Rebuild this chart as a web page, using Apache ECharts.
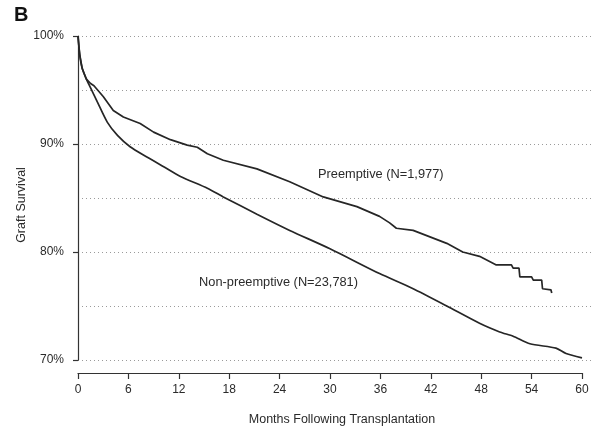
<!DOCTYPE html>
<html>
<head>
<meta charset="utf-8">
<script src="https://cdn.jsdelivr.net/npm/echarts@6/dist/echarts.min.js"></script>
<style>html,body{margin:0;padding:0;background:#fff}#c{width:593px;height:429px}</style>
</head>
<body>
<div id="c"></div>
<script>
var xTicks = [0, 6, 12, 18, 24, 30, 36, 42, 48, 54, 60];
var yTickLabels = ['70%', '80%', '90%', '100%'];

var nonPreMonths = [0, 0.2, 0.5, 1.0, 1.5, 2.3, 3.5, 4.7, 6.2, 8.2, 10.2, 12.2, 15.4, 17.3, 21.3, 25.2, 30.0, 35.9, 39.9, 43.9, 47.8, 50.2, 51.8, 53.8, 56.9, 58.1, 60];
var nonPreValues = [100, 98.3, 97.0, 96.0, 95.2, 93.9, 92.0, 90.8, 89.75, 88.8, 87.9, 87.0, 85.9, 85.1, 83.5, 82.0, 80.3, 78.0, 76.6, 75.0, 73.4, 72.6, 72.2, 71.5, 71.1, 70.6, 70.2];

var preMonths = [0, 0.2, 0.5, 1.0, 1.5, 1.9, 3.0, 4.2, 5.4, 7.4, 9.0, 11.0, 13.0, 14.2, 15.4, 17.3, 21.3, 25.2, 29.2, 33.2, 35.9, 37.1, 37.9, 39.9, 41.9, 43.9, 45.8, 47.8, 49.8, 51.6, 51.8, 52.5, 52.6, 54.0, 54.2, 55.2, 55.3, 56.3, 56.4];
var preValues = [100, 98.3, 97.0, 96.0, 95.6, 95.4, 94.4, 93.1, 92.5, 91.9, 91.1, 90.4, 89.9, 89.7, 89.1, 88.5, 87.7, 86.5, 85.1, 84.2, 83.3, 82.7, 82.2, 82.0, 81.4, 80.8, 80.0, 79.6, 78.8, 78.8, 78.5, 78.5, 77.7, 77.7, 77.4, 77.4, 76.6, 76.5, 76.2];

var preLabel = 'Preemptive (N=1,977)';
var nonPreLabel = 'Non-preemptive (N=23,781)';

function zip(a, b) { return a.map(function (v, i) { return [v, b[i]]; }); }

var FONT = '"Liberation Sans", Arial, Helvetica, sans-serif';
var TXT = '#2a2a2a';
var chart = echarts.init(document.getElementById('c'));
chart.setOption({
  animation: false,
  backgroundColor: '#fff',
  grid: [
    { left: 78, right: 11, top: 36, bottom: 69 },
    { left: 78, right: 0, top: 36, bottom: 69 }
  ],
  xAxis: [
    {
      gridIndex: 0, type: 'value', min: 0, max: 60, interval: 6, offset: 13,
      axisLine: { show: true, lineStyle: { color: '#333', width: 1.2 } },
      axisTick: { show: true, inside: false, length: 6, lineStyle: { color: '#333', width: 1.2 } },
      axisLabel: { margin: 11, color: TXT, fontSize: 12, fontFamily: FONT,
        formatter: function (v) { return xTicks.indexOf(v) >= 0 ? String(v) : ''; } },
      splitLine: { show: false }
    },
    { gridIndex: 1, type: 'value', min: 0, max: 1, show: false }
  ],
  yAxis: [
    {
      gridIndex: 0, type: 'value', min: 70, max: 100, interval: 10,
      axisLine: { show: true, lineStyle: { color: '#333', width: 1.2 } },
      axisTick: { show: true, length: 5, lineStyle: { color: '#333', width: 1.2 } },
      axisLabel: { margin: 14, color: TXT, fontSize: 12, fontFamily: FONT,
        formatter: function (v) { return yTickLabels[Math.round((v - 70) / 10)]; } },
      splitLine: { show: false }
    },
    {
      gridIndex: 1, type: 'value', min: 70, max: 100, interval: 10,
      axisLine: { show: false }, axisTick: { show: false }, axisLabel: { show: false },
      splitLine: { show: true, lineStyle: { color: '#9a9a9a', type: [1, 3], width: 1 } },
      minorTick: { show: false, splitNumber: 2 },
      minorSplitLine: { show: true, lineStyle: { color: '#9a9a9a', type: [1, 3], width: 1 } }
    }
  ],
  series: [
    {
      name: 'Non-preemptive', type: 'line', xAxisIndex: 0, yAxisIndex: 0,
      data: zip(nonPreMonths, nonPreValues), showSymbol: false,
      smooth: 0.25,
      lineStyle: { color: '#262626', width: 1.7 }, z: 5
    },
    {
      name: 'Preemptive', type: 'line', xAxisIndex: 0, yAxisIndex: 0,
      data: zip(preMonths, preValues), showSymbol: false, smooth: false,
      lineStyle: { color: '#262626', width: 1.7 }, z: 5
    }
  ],
  graphic: [
    { type: 'text', left: 14, top: 5, style: { text: 'B', font: 'bold 20px ' + FONT, fill: '#111' } },
    { type: 'text', x: 22, y: 205, rotation: Math.PI / 2,
      style: { text: 'Graft Survival', font: '12.5px ' + FONT, fill: TXT, align: 'center', verticalAlign: 'middle' } },
    { type: 'text', x: 342, y: 420,
      style: { text: 'Months Following Transplantation', font: '12.5px ' + FONT, fill: TXT, align: 'center', verticalAlign: 'middle' } },
    { type: 'text', x: 318, y: 174,
      style: { text: preLabel, font: '12.8px ' + FONT, fill: TXT, align: 'left', verticalAlign: 'middle' } },
    { type: 'text', x: 358, y: 282,
      style: { text: nonPreLabel, font: '12.8px ' + FONT, fill: TXT, align: 'right', verticalAlign: 'middle' } }
  ]
});
</script>
</body>
</html>
